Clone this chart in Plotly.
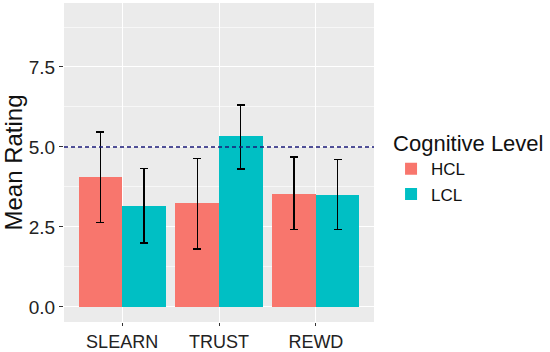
import plotly.graph_objects as go

categories = ["SLEARN", "TRUST", "REWD"]
hcl_mean = [4.06, 3.25, 3.53]
lcl_mean = [3.16, 5.34, 3.50]
hcl_upper = [5.47, 4.63, 4.69]
hcl_lower = [2.63, 1.81, 2.41]
lcl_upper = [4.34, 6.31, 4.60]
lcl_lower = [2.00, 4.31, 2.41]
tick_vals = [0, 2.5, 5, 7.5]
tick_text = ["0.0", "2.5", "5.0", "7.5"]
ref_line = 5.0

xpos = [1, 2, 3]
off = 0.225

fig = go.Figure()
fig.add_trace(go.Bar(
    x=[p - off for p in xpos], y=hcl_mean, width=0.45, name="HCL",
    marker=dict(color="#F8766D", line=dict(width=0)),
    error_y=dict(type="data", symmetric=False,
                 array=[u - m for u, m in zip(hcl_upper, hcl_mean)],
                 arrayminus=[m - l for m, l in zip(hcl_mean, hcl_lower)],
                 color="black", thickness=1.2, width=4),
))
fig.add_trace(go.Bar(
    x=[p + off for p in xpos], y=lcl_mean, width=0.45, name="LCL",
    marker=dict(color="#00BFC4", line=dict(width=0)),
    error_y=dict(type="data", symmetric=False,
                 array=[u - m for u, m in zip(lcl_upper, lcl_mean)],
                 arrayminus=[m - l for m, l in zip(lcl_mean, lcl_lower)],
                 color="black", thickness=1.2, width=4),
))

fig.add_shape(type="line", xref="paper", x0=0, x1=1, yref="y", y0=ref_line, y1=ref_line,
              line=dict(color="#1A1A78", width=1.3, dash="4px,3px"), layer="above")

fig.update_layout(
    width=550, height=352,
    margin=dict(l=64, r=176, t=3, b=30),
    paper_bgcolor="white", plot_bgcolor="#EBEBEB",
    font=dict(family="Liberation Sans, Arial, sans-serif", color="#222222"),
    barmode="overlay", bargap=0,
    showlegend=True,
    legend=dict(x=1.055, y=0.625, xanchor="left", yanchor="top",
                title=dict(text="Cognitive Level", font=dict(size=22, color="#111111")),
                font=dict(size=17, color="#111111"),
                itemsizing="constant", tracegroupgap=0),
    xaxis=dict(range=[0.4, 3.6], tickmode="array", tickvals=xpos, ticktext=categories,
               showgrid=True, gridcolor="white", gridwidth=1.2, zeroline=False,
               ticks="outside", ticklen=3, tickcolor="#333333", automargin=False,
               tickfont=dict(size=18, color="#222222")),
    yaxis=dict(range=[-0.47, 9.5], tickmode="array", tickvals=tick_vals, ticktext=tick_text,
               showgrid=True, gridcolor="white", gridwidth=1.2, zeroline=False,
               minor=dict(tickmode="array", tickvals=[1.25, 3.75, 6.25, 8.75],
                          showgrid=True, gridcolor="#F7F7F7", gridwidth=0.6),
               ticks="outside", ticklen=4, tickcolor="#333333", automargin=False,
               tickfont=dict(size=19, color="#222222"),
               title=dict(text="Mean Rating", font=dict(size=24, color="#111111"), standoff=2)),
)

fig.write_html("out.html", config={"displayModeBar": False},
               post_script="document.body.style.margin='0';document.body.style.padding='0';")
